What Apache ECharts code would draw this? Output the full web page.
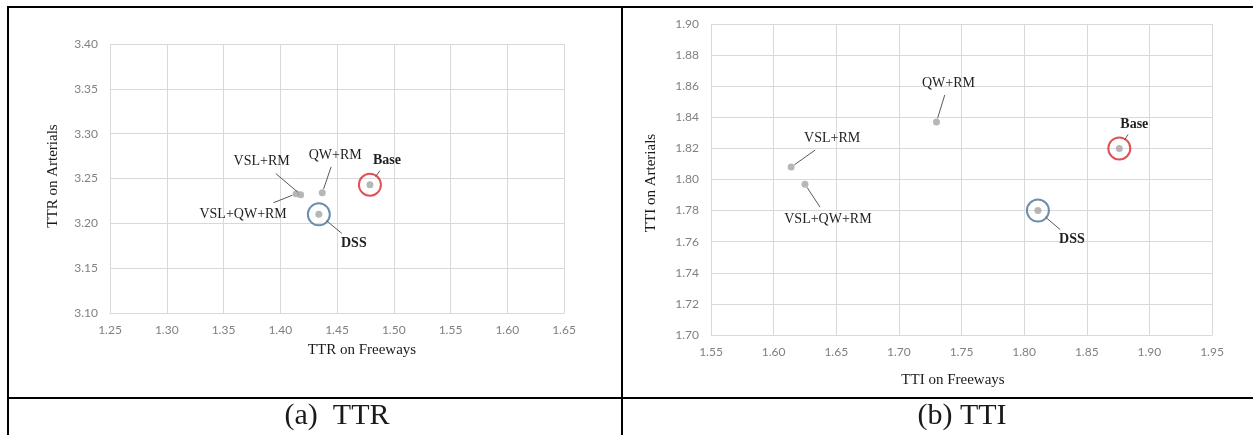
<!DOCTYPE html>
<html>
<head>
<meta charset="utf-8">
<script src="https://cdn.jsdelivr.net/npm/echarts@6/dist/echarts.min.js"></script>
<style>
  html, body { margin: 0; padding: 0; background: #fff; }
  #wrap { position: relative; width: 1253px; height: 435px; overflow: hidden; }
  #chart { position: absolute; left: 0; top: 0; width: 1253px; height: 435px; }
  .ln { position: absolute; background: #000; }
</style>
</head>
<body>
<div id="wrap">
  <div id="chart"></div>
  <!-- table borders -->
  <div class="ln" style="left:7px;top:6px;width:1246px;height:2px"></div>
  <div class="ln" style="left:7px;top:397px;width:1246px;height:2px"></div>
  <div class="ln" style="left:7px;top:6px;width:2px;height:429px"></div>
  <div class="ln" style="left:621px;top:6px;width:2px;height:429px"></div>
</div>
<script>
// strategies
var strategies = ['Base', 'DSS', 'QW+RM', 'VSL+RM', 'VSL+QW+RM'];
var highlighted = ['Base', 'DSS'];

// (a) TTR
var ttrFreeways = [1.479, 1.434, 1.437, 1.418, 1.414];
var ttrArterials = [3.243, 3.210, 3.234, 3.232, 3.233];
var ttrXTicks = [1.25, 1.30, 1.35, 1.40, 1.45, 1.50, 1.55, 1.60, 1.65];
var ttrYTicks = [3.10, 3.15, 3.20, 3.25, 3.30, 3.35, 3.40];

// (b) TTI
var ttiFreeways = [1.876, 1.811, 1.730, 1.614, 1.625];
var ttiArterials = [1.820, 1.780, 1.837, 1.808, 1.797];
var ttiXTicks = [1.55, 1.60, 1.65, 1.70, 1.75, 1.80, 1.85, 1.90, 1.95];
var ttiYTicks = [1.70, 1.72, 1.74, 1.76, 1.78, 1.80, 1.82, 1.84, 1.86, 1.88, 1.90];

// label offsets (px) from each point
var offsetsA = { 'Base': [17, -24], 'DSS': [35, 29], 'QW+RM': [13, -38], 'VSL+RM': [-39, -33], 'VSL+QW+RM': [-53, 21] };
var offsetsB = { 'Base': [15, -24], 'DSS': [34, 29], 'QW+RM': [12, -39], 'VSL+RM': [41, -29], 'VSL+QW+RM': [23, 35] };
var ringColors = { 'Base': '#d9262c', 'DSS': '#4a7298' };

var serif = 'Liberation Serif, Times New Roman, serif';
var tickFont = { color: '#808080', fontFamily: 'Lato', fontSize: 12 };

var measureCtx = document.createElement('canvas').getContext('2d');
function textWidth(s, font) { measureCtx.font = font; return measureCtx.measureText(s).width; }

myChart = echarts.init(document.getElementById('chart'));

function makeAxis(ticks, gridIndex, isX) {
  return {
    type: 'value',
    gridIndex: gridIndex,
    min: ticks[0],
    max: ticks[ticks.length - 1],
    interval: Math.round((ticks[1] - ticks[0]) * 100) / 100,
    axisLine: { show: isX, lineStyle: { color: '#d9d9d9' } },
    axisTick: { show: false },
    splitLine: { show: true, lineStyle: { color: '#d9d9d9', width: 1 } },
    axisLabel: Object.assign({ margin: isX ? 11 : 12, formatter: function (v) { return v.toFixed(2); } }, tickFont)
  };
}

function makeSeries(xs, ys, offsets, idx) {
  var rings = highlighted.map(function (n) {
    var i = strategies.indexOf(n);
    return { name: n, value: [xs[i], ys[i]], itemStyle: { borderColor: ringColors[n] } };
  });
  return [
    {
      type: 'scatter', xAxisIndex: idx, yAxisIndex: idx, symbolSize: 7, z: 3,
      itemStyle: { color: '#a5a5a5' },
      data: strategies.map(function (n, i) { return { name: n, value: [xs[i], ys[i]] }; })
    },
    {
      type: 'scatter', xAxisIndex: idx, yAxisIndex: idx, symbol: 'circle', symbolSize: 22, z: 2,
      itemStyle: { color: 'rgba(0,0,0,0)', borderWidth: 2 },
      data: rings
    },
    {
      // callout labels with leader lines
      type: 'custom', coordinateSystem: 'cartesian2d', xAxisIndex: idx, yAxisIndex: idx, z: 4, silent: true,
      data: strategies.map(function (n, i) { return [xs[i], ys[i]]; }),
      renderItem: function (params, api) {
        var name = strategies[params.dataIndex];
        var bold = highlighted.indexOf(name) >= 0;
        var font = (bold ? 'bold ' : '') + '14px ' + serif;
        var pt = api.coord([api.value(0), api.value(1)]);
        var o = offsets[name];
        var lx = pt[0] + o[0], ly = pt[1] + o[1];
        var hw = textWidth(name, font) / 2 + 4, hh = bold ? 10 : 12;
        var vx = pt[0] - lx, vy = pt[1] - ly;
        var t = Math.min(hw / Math.max(Math.abs(vx), 1e-6), hh / Math.max(Math.abs(vy), 1e-6));
        var len = Math.sqrt(vx * vx + vy * vy);
        var gap = bold ? 10 : 4;
        return {
          type: 'group',
          children: [
            {
              type: 'line',
              shape: { x1: pt[0] - vx / len * gap, y1: pt[1] - vy / len * gap, x2: lx + vx * t, y2: ly + vy * t },
              style: { stroke: '#595959', lineWidth: 1 }
            },
            {
              type: 'text', x: lx, y: ly,
              style: { text: name, font: font, fill: '#1f1f1f', align: 'center', verticalAlign: 'middle' }
            }
          ]
        };
      }
    }
  ];
}

function txt(x, y, text, size, rot) {
  return {
    type: 'text', x: x, y: y, rotation: rot || 0,
    style: { text: text, font: size + 'px ' + serif, fill: '#1a1a1a', align: 'center', verticalAlign: 'middle', textAlign: 'center', textVerticalAlign: 'middle' }
  };
}

var option = {
  backgroundColor: '#fff',
  animation: false,
  grid: [
    { left: 110, top: 44, width: 454, height: 269 },
    { left: 711, top: 24, width: 501, height: 311 }
  ],
  xAxis: [makeAxis(ttrXTicks, 0, true), makeAxis(ttiXTicks, 1, true)],
  yAxis: [makeAxis(ttrYTicks, 0, false), makeAxis(ttiYTicks, 1, false)],
  series: makeSeries(ttrFreeways, ttrArterials, offsetsA, 0).concat(makeSeries(ttiFreeways, ttiArterials, offsetsB, 1)),
  graphic: [
    txt(53, 176, 'TTR on Arterials', 15, Math.PI / 2),
    txt(362, 350, 'TTR on Freeways', 15),
    txt(651, 183, 'TTI on Arterials', 15, Math.PI / 2),
    txt(953, 380, 'TTI on Freeways', 15),
    txt(337, 416, '(a)  TTR', 30),
    txt(962, 416, '(b) TTI', 30)
  ]
};

myChart.setOption(option);
</script>
</body>
</html>
